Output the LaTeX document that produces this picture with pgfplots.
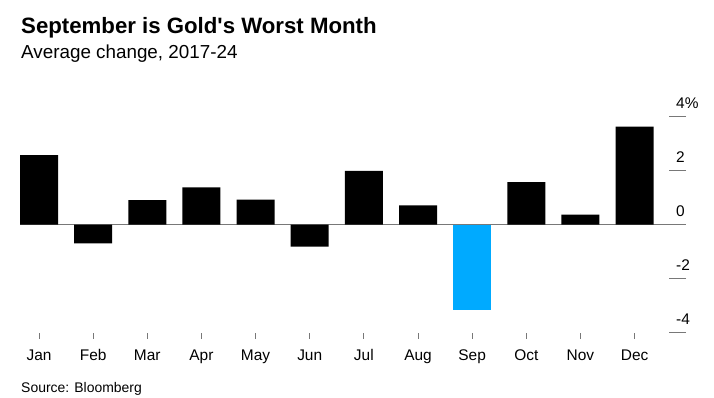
\documentclass[border=0pt]{standalone}
\usepackage{pgfplots}
\pgfplotsset{compat=1.18}
\usepackage{fontspec}
\setmainfont{Liberation Sans}
\newfontfamily\titlefont{Liberation Sans}
\definecolor{sepblue}{RGB}{0,170,255}
\definecolor{axisgray}{RGB}{120,120,120}
\begin{document}
\begin{tikzpicture}[x=1bp,y=1bp]
\path[use as bounding box] (0,0) rectangle (714,397);
\node[anchor=base west, inner sep=0pt, font=\titlefont\fontsize{22.3}{25}\selectfont\bfseries] at (21,364) {September is Gold's Worst Month};
\node[anchor=base west, inner sep=0pt, font=\fontsize{18.9}{22}\selectfont] at (21,339) {Average change, 2017-24};
\node[anchor=base west, inner sep=0pt, font=\fontsize{14}{16}\selectfont] at (21,4.3) {Source: Bloomberg};
\begin{axis}[
  at={(20bp,64.3bp)}, anchor=south west,
  scale only axis, width=666bp, height=232.2bp,
  xmin=-0.351, xmax=11.95, ymin=-4, ymax=4.6,
  axis line style={draw=none},
  axis x line*=bottom, axis y line*=right,
  ytick={-4,-2,0,2,4}, yticklabels={-4,-2,0,2,4\%},
  xtick={0,...,11},
  xticklabels={Jan,Feb,Mar,Apr,May,Jun,Jul,Aug,Sep,Oct,Nov,Dec},
  ytick style={draw=none},
  xtick style={draw=axisgray, line width=0.8pt},
  y tick label style={anchor=south west, inner sep=0pt, xshift=-10bp, yshift=8bp},
  x tick label style={anchor=base, inner sep=0pt},
  every x tick label/.append style={yshift=-22bp},
  ticklabel style={font=\fontsize{15.5}{18}\selectfont},
  y tick label style={font=\fontsize{15.5}{18}\selectfont},
  xtick align=outside, ytick align=inside,
  major tick length=6bp,
  clip=false,
]
\draw[axisgray, line width=0.9pt] (axis cs:-0.351,0) -- (axis cs:11.95,0);
\draw[axisgray, line width=0.9pt] (axis cs:11.95,-4) -- ([xshift=-17bp]axis cs:11.95,-4);
\draw[axisgray, line width=0.9pt] (axis cs:11.95,-2) -- ([xshift=-17bp]axis cs:11.95,-2);
\draw[axisgray, line width=0.9pt] (axis cs:11.95,2) -- ([xshift=-17bp]axis cs:11.95,2);
\draw[axisgray, line width=0.9pt] (axis cs:11.95,4) -- ([xshift=-17bp]axis cs:11.95,4);
\addplot[ybar, bar width=38bp, fill=black, draw=none] coordinates {
 (0,2.58) (1,-0.69) (2,0.91) (3,1.38) (4,0.93) (5,-0.81) (6,1.99) (7,0.72) (9,1.58) (10,0.37) (11,3.63)};
\addplot[ybar, bar width=38bp, fill=sepblue, draw=none] coordinates {(8,-3.16)};
\end{axis}
\end{tikzpicture}
\end{document}
